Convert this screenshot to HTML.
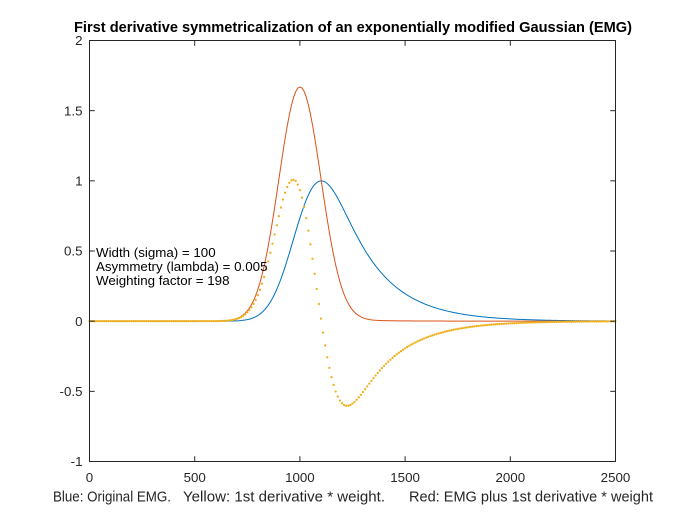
<!DOCTYPE html>
<html>
<head>
<meta charset="utf-8">
<style>
html,body{margin:0;padding:0;background:#fff;}
svg{display:block;}
text{font-family:"Liberation Sans",Arial,sans-serif;fill:#262626;}
</style>
</head>
<body>
<svg id="s" width="681" height="519" viewBox="0 0 681 519" xmlns="http://www.w3.org/2000/svg">
<rect x="0" y="0" width="681" height="519" fill="#ffffff"/>
<rect x="89.5" y="40.5" width="526" height="421" fill="#ffffff"/>
<g id="curves"></g>
<g id="axes" stroke="#262626" stroke-width="1" fill="none"></g>
<g id="labels" font-size="13.33px"></g>
<text x="74" y="32" font-size="14.67px" font-weight="bold" fill="#000" style="fill:#000" textLength="558" lengthAdjust="spacingAndGlyphs">First derivative symmetricalization of an exponentially modified Gaussian (EMG)</text>
<text x="53" y="501.5" font-size="14.67px" textLength="118" lengthAdjust="spacingAndGlyphs">Blue: Original EMG.</text>
<text x="183" y="501.5" font-size="14.67px" textLength="202" lengthAdjust="spacingAndGlyphs">Yellow: 1st derivative * weight.</text>
<text x="409" y="501.5" font-size="14.67px" textLength="244" lengthAdjust="spacingAndGlyphs">Red: EMG plus 1st derivative * weight</text>
<text x="96" y="257" font-size="13.33px" fill="#000" style="fill:#000">Width (sigma) = 100</text>
<text x="96" y="271" font-size="13.33px" fill="#000" style="fill:#000">Asymmetry (lambda) = 0.005</text>
<text x="96" y="285" font-size="13.33px" fill="#000" style="fill:#000">Weighting factor = 198</text>
</svg>
<script>
(function(){
var NS="http://www.w3.org/2000/svg";
var X0=89.5,X1=615.5,Y0=40.5,Y1=461.5;
function sx(x){return X0+x/2500*(X1-X0);}
function sy(y){return Y1-(y+1)/3*(Y1-Y0);}
function erfc(x){var z=Math.abs(x);var t=1/(1+0.5*z);
var r=t*Math.exp(-z*z-1.26551223+t*(1.00002368+t*(0.37409196+t*(0.09678418+t*(-0.18628806+t*(0.27886807+t*(-1.13520398+t*(1.48851587+t*(-0.82215223+t*0.17087277)))))))));
return x>=0?r:2-r;}
var mu=1000,s=100,lam=0.005,w=198;
function emg(x){return (lam/2)*Math.exp((lam/2)*(2*mu+lam*s*s-2*x))*erfc((mu+lam*s*s-x)/(Math.SQRT2*s));}
function gau(x){return Math.exp(-(x-mu)*(x-mu)/(2*s*s))/(s*Math.sqrt(2*Math.PI));}
var M=0;for(var x=0;x<=2500;x+=0.5){var v=emg(x);if(v>M)M=v;}
var blue=[],red=[],yel=[];
for(var x=0;x<=2500;x+=10){
 var f=emg(x)/M;
 var d=w*lam*(gau(x)-emg(x))/M;
 blue.push([x,f]);yel.push([x,d]);red.push([x,f+d]);
}
var g=document.getElementById("curves");
function line(arr,col){
 var p=document.createElementNS(NS,"polyline");
 p.setAttribute("points",arr.map(function(a){return sx(a[0]).toFixed(2)+","+sy(a[1]).toFixed(2);}).join(" "));
 p.setAttribute("fill","none");p.setAttribute("stroke",col);p.setAttribute("stroke-width","1");
 p.setAttribute("stroke-linejoin","round");
 g.appendChild(p);
}
line(blue,"#0072BD");
line(red,"#D95319");
yel.forEach(function(a){
 var c=document.createElementNS(NS,"circle");
 c.setAttribute("cx",sx(a[0]).toFixed(2));c.setAttribute("cy",sy(a[1]).toFixed(2));
 c.setAttribute("r","1.15");c.setAttribute("fill","#EDB120");
 g.appendChild(c);
});
var ax=document.getElementById("axes");
function seg(x1,y1,x2,y2){var l=document.createElementNS(NS,"line");
 l.setAttribute("x1",x1);l.setAttribute("y1",y1);l.setAttribute("x2",x2);l.setAttribute("y2",y2);ax.appendChild(l);}
var r=document.createElementNS(NS,"rect");
r.setAttribute("x",X0);r.setAttribute("y",Y0);r.setAttribute("width",X1-X0);r.setAttribute("height",Y1-Y0);
ax.appendChild(r);
var L=5.26;
var lab=document.getElementById("labels");
function txt(x,y,t,anchor){var e=document.createElementNS(NS,"text");
 e.setAttribute("x",x);e.setAttribute("y",y);e.setAttribute("text-anchor",anchor);e.textContent=t;lab.appendChild(e);}
for(var i=0;i<=5;i++){var xv=i*500;var px=sx(xv);
 seg(px,Y1,px,Y1-L);seg(px,Y0,px,Y0+L);
 txt(px,482,String(xv),"middle");}
var yt=[-1,-0.5,0,0.5,1,1.5,2];
yt.forEach(function(v){var py=sy(v);
 seg(X0,py,X0+L,py);seg(X1,py,X1-L,py);
 txt(82.5,py+4.7,String(v),"end");});
})();
</script>
</body>
</html>
